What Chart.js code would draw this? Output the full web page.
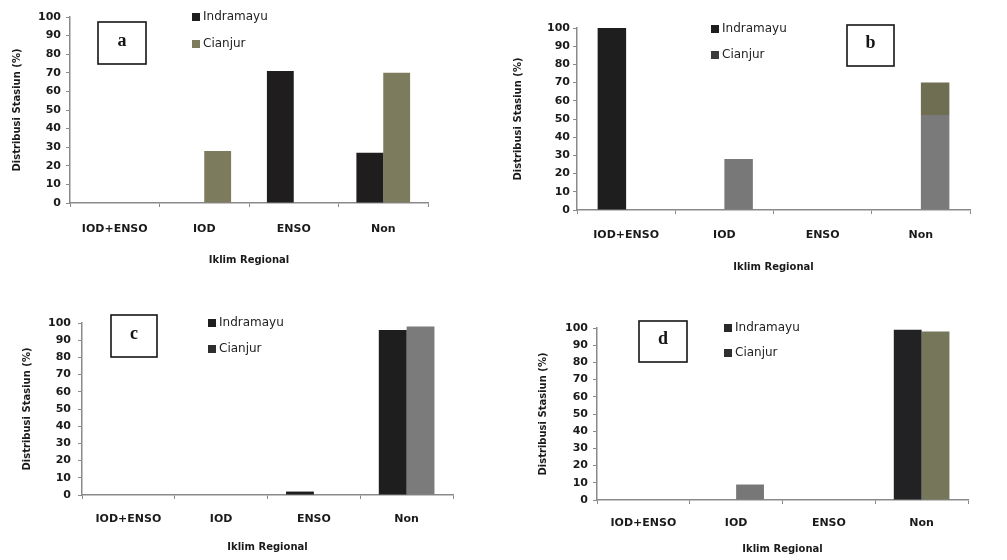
<!DOCTYPE html>
<html>
<head>
<meta charset="utf-8">
<script src="https://cdn.jsdelivr.net/npm/chart.js@4/dist/chart.umd.min.js"></script>
<style>
  html, body { margin: 0; padding: 0; background: #fff; }
  #wrap { position: relative; width: 1007px; height: 560px; overflow: hidden; }
  canvas { position: absolute; }
</style>
</head>
<body>
<div id="wrap">
  <canvas id="chartA" width="500" height="280" style="left:0;top:0"></canvas>
  <canvas id="chartB" width="507" height="280" style="left:500px;top:0"></canvas>
  <canvas id="chartC" width="500" height="280" style="left:0;top:280px"></canvas>
  <canvas id="chartD" width="507" height="280" style="left:500px;top:280px"></canvas>
</div>
<script>
// categories and values
var categories = ['IOD+ENSO', 'IOD', 'ENSO', 'Non'];
var seriesNames = ['Indramayu', 'Cianjur'];
var yTicks = [0, 10, 20, 30, 40, 50, 60, 70, 80, 90, 100];

var indramayuA = [0, 0, 71, 27];
var cianjurA = [0, 28, 0, 70];

var indramayuB = [100, 0, 0, 0];
var cianjurB = [0, 28, 0, 70];

var indramayuC = [0, 0, 2, 96];
var cianjurC = [0, 0, 0, 98];

var indramayuD = [0, 0, 0, 99];
var cianjurD = [0, 9, 0, 98];

var yTitle = 'Distribusi Stasiun (%)';
var xTitle = 'Iklim Regional';

var panelDecor = {
    id: 'panelDecor',
    afterDraw: function(chart, args, opts) {
        var ctx = chart.ctx;
        ctx.save();
        // letter box
        ctx.lineWidth = 1.6;
        ctx.strokeStyle = '#151515';
        ctx.strokeRect(opts.box[0], opts.box[1], opts.box[2], opts.box[3]);
        ctx.fillStyle = '#151515';
        ctx.font = 'bold 18px "Liberation Serif"';
        ctx.textAlign = 'center';
        ctx.textBaseline = 'middle';
        ctx.fillText(opts.letter, opts.box[0] + opts.box[2] / 2, opts.box[1] + opts.box[3] / 2 - 2);
        // legend
        ctx.textAlign = 'left';
        ctx.font = '12px "DejaVu Sans"';
        chart.data.datasets.forEach(function(ds, i) {
            var y = opts.legend[1] + i * opts.legend[2];
            ctx.fillStyle = opts.legendColors[i];
            ctx.fillRect(opts.legend[0], y - 4, 8, 8);
            ctx.fillStyle = '#222';
            ctx.fillText(ds.label, opts.legend[0] + 11, y);
        });
        ctx.restore();
    }
};

// panel b: the Non bar of Cianjur is two-toned in the scan
function twoToneB(context) {
    if (context.dataIndex !== 3) return '#787878';
    var chart = context.chart;
    if (!chart.chartArea) return '#787878';
    var y = chart.scales.y;
    var top = y.getPixelForValue(70), mid = y.getPixelForValue(52), bot = y.getPixelForValue(0);
    var g = chart.ctx.createLinearGradient(0, top, 0, bot);
    var f = (mid - top) / (bot - top);
    g.addColorStop(0, '#706e52');
    g.addColorStop(f, '#706e52');
    g.addColorStop(f, '#7a7a7a');
    g.addColorStop(1, '#7a7a7a');
    return g;
}

function createPanel(id, indramayu, cianjur, cfg) {
    var ctx = document.getElementById(id).getContext('2d');
    return new Chart(ctx, {
        type: 'bar',
        data: {
            labels: categories,
            datasets: [{
                label: seriesNames[0],
                data: indramayu,
                backgroundColor: cfg.colors[0],
                categoryPercentage: cfg.catPct,
                barPercentage: 1.0
            }, {
                label: seriesNames[1],
                data: cianjur,
                backgroundColor: cfg.colors[1],
                categoryPercentage: cfg.catPct,
                barPercentage: 1.0
            }]
        },
        options: {
            responsive: false,
            animation: false,
            layout: { padding: cfg.padding },
            plugins: {
                legend: { display: false },
                tooltip: { enabled: false },
                panelDecor: {
                    letter: cfg.letter,
                    box: cfg.box,
                    legend: cfg.legend,
                    legendColors: cfg.legendColors
                }
            },
            scales: {
                x: {
                    grid: { drawOnChartArea: false, tickLength: 4, color: '#8a8a8a', lineWidth: 1 },
                    border: { color: '#8a8a8a', width: 1.5 },
                    ticks: {
                        padding: cfg.xPad,
                        color: '#1a1a1a',
                        font: { family: 'DejaVu Sans', size: 11, weight: 'bold' }
                    },
                    title: {
                        display: true,
                        text: xTitle,
                        color: '#1a1a1a',
                        padding: 0,
                        font: { family: 'DejaVu Sans', size: 10, weight: 'bold' }
                    },
                    afterFit: function(scale) { scale.height = cfg.xHeight; }
                },
                y: {
                    min: 0,
                    max: 100,
                    afterBuildTicks: function(scale) {
                        scale.ticks = yTicks.map(function(v) { return { value: v }; });
                    },
                    grid: { drawOnChartArea: false, tickLength: 4, color: '#8a8a8a', lineWidth: 1 },
                    border: { color: '#8a8a8a', width: 1.5 },
                    ticks: {
                        padding: cfg.yPad,
                        color: '#1a1a1a',
                        font: { family: 'DejaVu Sans', size: 11, weight: 'bold' }
                    },
                    title: {
                        display: true,
                        text: yTitle,
                        color: '#1a1a1a',
                        padding: 0,
                        font: { family: 'DejaVu Sans', size: 10, weight: 'bold' }
                    },
                    afterFit: function(scale) { scale.width = cfg.yWidth; }
                }
            }
        },
        plugins: [panelDecor]
    });
}

createPanel('chartA', indramayuA, cianjurA, {
    letter: 'a',
    colors: ['#1f1d1d', '#7d7b5e'],
    legendColors: ['#1f1d1d', '#7d7b5e'],
    catPct: 0.6,
    padding: { left: 11, top: 17, right: 72, bottom: 14 },
    yWidth: 59, xHeight: 63, xPad: 16, yPad: 5,
    box: [98, 22, 48, 42],
    legend: [192, 17, 27]
});

createPanel('chartB', indramayuB, cianjurB, {
    letter: 'b',
    colors: ['#1e1e1e', twoToneB],
    legendColors: ['#1e1e1e', '#3a3a3a'],
    catPct: 0.58,
    padding: { left: 12, top: 28, right: 37, bottom: 7 },
    yWidth: 65, xHeight: 63, xPad: 15, yPad: 3,
    box: [347, 25, 47, 41],
    legend: [211, 29, 26]
});

createPanel('chartC', indramayuC, cianjurC, {
    letter: 'c',
    colors: ['#1e1e1e', '#7b7b7b'],
    legendColors: ['#1e1e1e', '#2e2e2e'],
    catPct: 0.6,
    padding: { left: 21, top: 43, right: 47, bottom: 7 },
    yWidth: 61, xHeight: 58, xPad: 14, yPad: 7,
    box: [111, 35, 46, 42],
    legend: [208, 43, 26]
});

createPanel('chartD', indramayuD, cianjurD, {
    letter: 'd',
    colors: ['#222224', ['#777777', '#777777', '#777777', '#76765a']],
    legendColors: ['#2a2a2a', '#2e2e2e'],
    catPct: 0.6,
    padding: { left: 37, top: 48, right: 39, bottom: 5 },
    yWidth: 60, xHeight: 55, xPad: 13, yPad: 5,
    box: [139, 41, 48, 41],
    legend: [224, 48, 25]
});
</script>
</body>
</html>
